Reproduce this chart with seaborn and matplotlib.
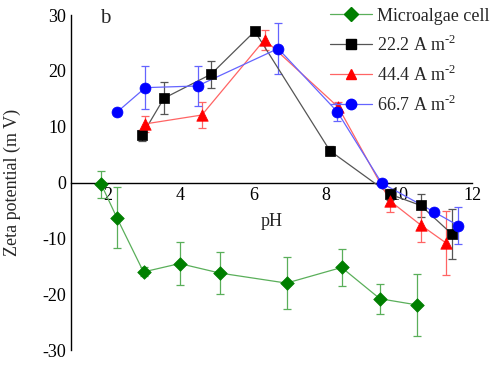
import numpy as np
import pandas as pd
import matplotlib
matplotlib.use("Agg")
import matplotlib.pyplot as plt
from matplotlib.lines import Line2D
import seaborn as sns

# values
algae_ph = [1.83, 2.26, 2.99, 3.98, 5.08, 6.91, 8.42, 9.47, 10.48]
algae_zeta = [-0.3, -6.3, -16.0, -14.5, -16.2, -18.0, -15.2, -20.8, -21.9]
algae_err = [2.4, 5.5, 0.8, 3.8, 3.7, 4.6, 3.3, 2.7, 5.5]

c222_ph = [2.95, 3.55, 4.84, 6.04, 8.10, 9.75, 10.59, 11.44]
c222_zeta = [8.5, 15.1, 19.4, 27.1, 5.7, -2.1, -4.1, -9.2]
c222_err = [1.0, 2.9, 2.4, 0.0, 0.8, 1.0, 2.1, 4.5]

c444_ph = [3.03, 4.59, 6.31, 8.33, 9.75, 10.59, 11.28]
c444_zeta = [10.5, 12.1, 25.6, 13.5, -3.3, -7.6, -10.8]
c444_err = [1.5, 2.3, 1.8, 1.0, 1.9, 3.1, 5.8]

c667_ph = [2.26, 3.04, 4.47, 6.68, 8.30, 9.52, 10.94, 11.62]
c667_zeta = [12.6, 17.0, 17.3, 24.0, 12.7, -0.1, -5.2, -7.7]
c667_err = [0.0, 3.9, 3.5, 4.5, 1.6, 0.0, 0.0, 3.3]

labels = ["Microalgae cell", r"22.2 A m$^{\text{-2}}$",
          r"44.4 A m$^{\text{-2}}$", r"66.7 A m$^{\text{-2}}$"]

sns.set_style("white")
plt.rcParams["font.family"] = ["Liberation Serif", "DejaVu Serif"]
plt.rcParams["mathtext.fontset"] = "custom"
plt.rcParams["mathtext.rm"] = "Liberation Serif"
plt.rcParams["axes.unicode_minus"] = False

fig = plt.figure(figsize=(4.96, 3.67), dpi=100)
ax = fig.add_axes([0.143, 0.046, 0.809, 0.913])

series = [
    (algae_ph, algae_zeta, algae_err, "#007f00", "#5aaf5a", "D", 48),
    (c222_ph, c222_zeta, c222_err, "#000000", "#555555", "s", 48),
    (c444_ph, c444_zeta, c444_err, "#ff0000", "#ff6464", "^", 68),
    (c667_ph, c667_zeta, c667_err, "#0000ff", "#6464ff", "o", 62),
]

handles = []
for (ph, z, e, col, light, mk, sz), lab in zip(series, labels):
    df = pd.DataFrame({"pH": ph, "zeta": z, "err": e})
    ax.errorbar(df["pH"], df["zeta"], yerr=df["err"], fmt="none",
                ecolor=light, elinewidth=0.9, capsize=3, capthick=0.9, zorder=2)
    sns.lineplot(data=df, x="pH", y="zeta", sort=False, color=light,
                 lw=0.9, ax=ax, zorder=3)
    sns.scatterplot(data=df, x="pH", y="zeta", marker=mk, color=col, s=sz,
                    edgecolor=col, linewidth=0.5, ax=ax, zorder=4)
    handles.append(Line2D([], [], color=light, lw=0.9, marker=mk,
                          markerfacecolor=col, markeredgecolor=col,
                          markersize=7.5))

ax.set_xlim(1.0, 12.0)
ax.set_ylim(-30, 30)
ax.set_xticks([2, 4, 6, 8, 10, 12])
ax.set_yticks([-30, -20, -10, 0, 10, 20, 30])

for s in ["top", "right"]:
    ax.spines[s].set_visible(False)
ax.spines["bottom"].set_position(("data", 0))
for s in ["left", "bottom"]:
    ax.spines[s].set_color("black")
    ax.spines[s].set_linewidth(1.0)

ax.tick_params(axis="both", direction="in", length=6, width=1.0,
               labelsize=13, colors="black")
ax.tick_params(axis="x", pad=3)

ax.set_xlabel("pH", fontsize=13)
ax.xaxis.set_label_coords(0.5, 0.41)
ax.set_ylabel("Zeta potential (m V)", fontsize=13)
ax.yaxis.set_label_coords(-0.125, 0.5)

ax.text(0.085, 1.018, "b", transform=ax.transAxes, fontsize=15,
        va="top", ha="center")

ax.legend(handles, labels, loc="upper right", bbox_to_anchor=(1.075, 1.06),
          frameon=False, fontsize=13, handlelength=2.3, handletextpad=0.3,
          labelspacing=0.55, borderpad=0.2)

fig.savefig("out.png", dpi=100)
